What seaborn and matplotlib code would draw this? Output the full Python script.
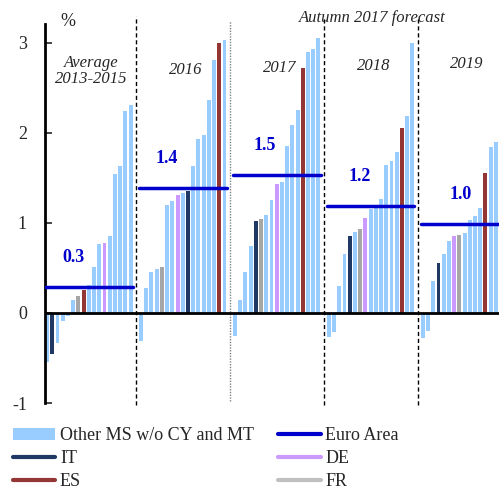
import matplotlib
matplotlib.use("Agg")
import matplotlib.pyplot as plt
from matplotlib.patches import Patch
from matplotlib.lines import Line2D
import seaborn as sns
import pandas as pd

# data (bars sorted ascending in each panel)
groups = ["Average\n2013-2015", "2016", "2017", "2018", "2019"]

avg_vals = [-0.54, -0.46, -0.33, -0.09, -0.03, 0.14, 0.19, 0.25, 0.31, 0.51, 0.77, 0.78, 0.86, 1.54, 1.63, 2.24, 2.31]
avg_kind = ["MS", "IT", "MS", "MS", "MS", "MS", "FR", "ES", "MS", "MS", "MS", "DE", "MS", "MS", "MS", "MS", "MS"]

y16_vals = [-0.31, 0.28, 0.45, 0.49, 0.51, 1.20, 1.24, 1.31, 1.33, 1.36, 1.63, 1.93, 1.98, 2.37, 2.81, 3.00, 3.03]
y16_kind = ["MS", "MS", "MS", "MS", "FR", "MS", "MS", "DE", "MS", "IT", "MS", "MS", "MS", "MS", "MS", "ES", "MS"]

y17_vals = [-0.26, 0.14, 0.45, 0.74, 1.02, 1.04, 1.09, 1.25, 1.43, 1.45, 1.85, 2.09, 2.26, 2.72, 2.90, 2.93, 3.06]
y17_kind = ["MS", "MS", "MS", "MS", "IT", "FR", "MS", "MS", "DE", "MS", "MS", "MS", "MS", "ES", "MS", "MS", "MS"]

y18_vals = [-0.27, -0.21, 0.30, 0.65, 0.86, 0.90, 0.93, 1.06, 1.15, 1.19, 1.27, 1.64, 1.69, 1.79, 2.06, 2.19, 3.00]
y18_kind = ["MS", "MS", "MS", "MS", "IT", "MS", "FR", "DE", "MS", "MS", "MS", "MS", "MS", "MS", "ES", "MS", "MS"]

y19_vals = [-0.28, -0.20, 0.36, 0.55, 0.65, 0.80, 0.85, 0.87, 0.89, 1.03, 1.08, 1.17, 1.56, 1.84, 1.90]
y19_kind = ["MS", "MS", "MS", "IT", "MS", "MS", "DE", "FR", "MS", "MS", "MS", "MS", "ES", "MS", "MS"]

euro_area = [0.29, 1.39, 1.53, 1.19, 0.99]

all_vals = [avg_vals, y16_vals, y17_vals, y18_vals, y19_vals]
all_kind = [avg_kind, y16_kind, y17_kind, y18_kind, y19_kind]

colors = {"MS": "#99CCFF", "IT": "#1F3864", "DE": "#CC99FF", "ES": "#943634", "FR": "#A6A6A6"}
euro_col = "#0000CC"

# build long table, one slot gap between panels
step = 18
rows = []
for g, (vals, kinds) in enumerate(zip(all_vals, all_kind)):
    for i, (v, k) in enumerate(zip(vals, kinds)):
        rows.append({"pos": g * step + i, "value": v, "kind": k})
df = pd.DataFrame(rows)

sns.set_style("white")
plt.rcParams["font.family"] = ["Liberation Serif", "DejaVu Serif"]

fig = plt.figure(figsize=(4.99, 4.90), dpi=100)
ax = fig.add_axes([45 / 499, 1 - 403 / 490, 1 - 45 / 499, (403 - 24) / 490])

sns.barplot(data=df, x="pos", y="value", hue="kind", palette=colors,
            native_scale=True, dodge=False, width=0.75, legend=False,
            saturation=1, linewidth=0, ax=ax)

# seaborn shrinks the bars when hue is used on a native scale, so reset width
for p in ax.patches:
    cx = p.get_x() + p.get_width() / 2
    p.set_width(0.75)
    p.set_x(cx - 0.375)

ax.axhline(0, color="black", lw=2, zorder=3)

# euro area lines + labels
lbl_dx = [5, 5, 5.7, 6, 7.3]
for g, ea in enumerate(euro_area):
    x0 = g * step - 0.4
    x1 = g * step + 16.4
    ax.plot([x0, x1], [ea, ea], color=euro_col, lw=2.5, zorder=4)
    ax.text(g * step + lbl_dx[g], ea + 0.33, f"{ea:.1f}", color=euro_col,
            fontsize=13, fontweight="bold", ha="center", va="center")

# panel titles
title_y = [2.69, 2.70, 2.72, 2.74, 2.77]
for g, name in enumerate(groups):
    ax.text(g * step + 8.5, title_y[g], name, fontsize=12, style="italic",
            ha="center", va="center", linespacing=1.05)

# separators
for g in range(1, 5):
    xs = g * step - 0.9
    if g == 2:
        ax.plot([xs, xs], [-0.98, 3.24], color="#808080", lw=1, ls=(0, (1, 1)),
                clip_on=False, zorder=2)
    else:
        ax.plot([xs, xs], [-1.02, 3.3], color="black", lw=1, ls=(0, (3, 2)),
                clip_on=False, zorder=2)

ax.set_xlim(-0.4, 86.6)
ax.set_ylim(-1, 3.21)
ax.set_yticks([-1, 0, 1, 2, 3])
ax.set_yticklabels(["-1", "0", "1", "2", "3"])
ax.set_xticks([])
ax.set_xlabel("")
ax.set_ylabel("")
ax.tick_params(axis="y", direction="in", length=5, width=1.2, pad=13,
               labelsize=13, left=True)
for s in ["top", "right", "bottom"]:
    ax.spines[s].set_visible(False)
ax.spines["left"].set_linewidth(2)
ax.spines["left"].set_color("black")

fig.text(68 / 499, 1 - 22 / 490, "%", fontsize=13, ha="center", va="center")
fig.text(372 / 499, 1 - 18 / 490, "Autumn 2017 forecast", fontsize=12,
         style="italic", ha="center", va="center")

handles = [
    Patch(facecolor=colors["MS"], edgecolor="none"),
    Line2D([], [], color=colors["IT"], lw=3),
    Line2D([], [], color=colors["ES"], lw=3),
    Line2D([], [], color=euro_col, lw=3),
    Line2D([], [], color=colors["DE"], lw=3),
    Line2D([], [], color="#C0C0C0", lw=3),
]
labels = ["Other MS w/o CY and MT", "IT", "ES", "Euro Area", "DE", "FR"]
fig.legend(handles, labels, loc="upper left", bbox_to_anchor=(0.026, 0.128),
           ncol=2, frameon=False, fontsize=13, handlelength=2.35,
           handletextpad=0.25, columnspacing=1.35, labelspacing=0.33,
           borderpad=0, borderaxespad=0)

fig.savefig("out.png", dpi=100)
